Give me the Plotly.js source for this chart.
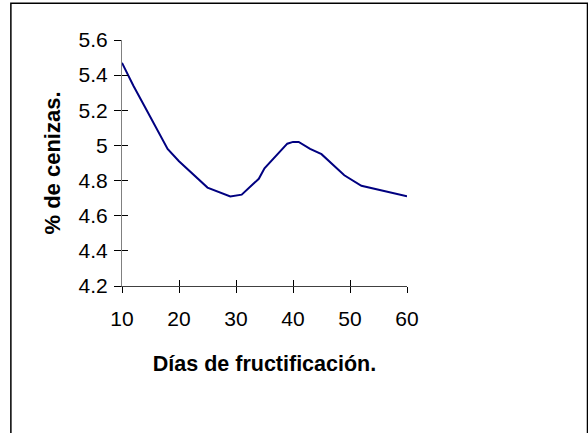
<!DOCTYPE html>
<html>
<head>
<meta charset="utf-8">
<script src="https://cdn.plot.ly/plotly-3.0.1.min.js"></script>
<style>
html, body { margin: 0; padding: 0; background: #fff; }
#chart { width: 588px; height: 433px; }
</style>
</head>
<body>
<div id="chart"></div>
<script>
// Días de fructificación
const dias = [10, 12, 14, 16, 18, 20, 25, 29, 31, 33, 34, 35, 39, 40, 41, 43, 45, 49, 52, 60];
// % de cenizas
const cenizas = [5.47, 5.34, 5.22, 5.10, 4.98, 4.91, 4.76, 4.71, 4.72, 4.78, 4.81, 4.87, 5.01, 5.02, 5.02, 4.98, 4.95, 4.83, 4.77, 4.71];

const xTicks = [10, 20, 30, 40, 50, 60];
const yTicks = [4.2, 4.4, 4.6, 4.8, 5, 5.2, 5.4, 5.6];
const yTickText = ['4.2', '4.4', '4.6', '4.8', '5', '5.2', '5.4', '5.6'];

const trace = {
  x: dias, y: cenizas, type: 'scatter', mode: 'lines',
  line: { color: '#000080', width: 2, shape: 'linear' },
  hoverinfo: 'skip', showlegend: false
};

const fontFam = '"Liberation Sans", Arial, sans-serif';

const layout = {
  width: 588, height: 433,
  margin: { l: 122, r: 181, t: 40, b: 147, pad: 0 },
  paper_bgcolor: '#ffffff', plot_bgcolor: '#ffffff',
  showlegend: false,
  xaxis: {
    range: [10, 60], tickvals: xTicks, ticktext: xTicks.map(String),
    showgrid: false, zeroline: false,
    showline: true, linecolor: '#404040', linewidth: 1,
    ticks: 'outside', ticklen: 6, tickcolor: '#000', tickwidth: 1,
    ticklabelstandoff: 8,
    tickfont: { family: fontFam, size: 21, color: '#000' },
    title: { text: 'Días de fructificación.', font: { family: fontFam, size: 21.5, color: '#000', weight: 'bold' }, standoff: 26 },
    fixedrange: true
  },
  xaxis2: {
    range: [10, 60], tickvals: xTicks, overlaying: 'x', anchor: 'y', side: 'bottom',
    showgrid: false, zeroline: false, showline: false, showticklabels: false,
    ticks: 'inside', ticklen: 6, tickcolor: '#000', tickwidth: 1, fixedrange: true
  },
  yaxis: {
    range: [4.2, 5.6], tickvals: yTicks, ticktext: yTickText,
    showgrid: false, zeroline: false,
    showline: true, linecolor: '#808080', linewidth: 1,
    ticks: 'outside', ticklen: 7, tickcolor: '#000', tickwidth: 1,
    ticklabelstandoff: 2,
    tickfont: { family: fontFam, size: 21, color: '#000' },
    title: { text: '% de cenizas.', font: { family: fontFam, size: 22, color: '#000', weight: 'bold' }, standoff: 11 },
    fixedrange: true
  },
  yaxis2: {
    range: [4.2, 5.6], tickvals: yTicks, overlaying: 'y', anchor: 'x', side: 'left',
    showgrid: false, zeroline: false, showline: false, showticklabels: false,
    ticks: 'inside', ticklen: 6, tickcolor: '#000', tickwidth: 1, fixedrange: true
  },
  shapes: [{
    type: 'rect', xref: 'paper', yref: 'paper',
    x0: -0.3899, x1: 1.6333, y0: -0.64, y1: 1.1498,
    line: { color: '#000', width: 1.5 }, fillcolor: 'rgba(0,0,0,0)', layer: 'below'
  }]
};

const ghostX = { x: [10, 60], y: [4.2, 4.2], xaxis: 'x2', yaxis: 'y2', mode: 'markers', marker: { opacity: 0 }, hoverinfo: 'skip', showlegend: false };

Plotly.newPlot('chart', [trace, ghostX], layout, { staticPlot: true, displayModeBar: false });
</script>
</body>
</html>
